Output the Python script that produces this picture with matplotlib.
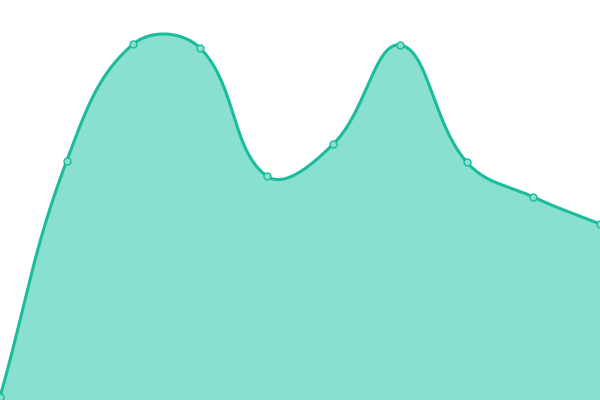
import numpy as np
import matplotlib
matplotlib.use("Agg")
import matplotlib.pyplot as plt

# values (y axis 0..400)
labels = ["A", "B", "C", "D", "E", "F", "G", "H", "I", "J"]
values = [3, 239, 356, 352, 224, 256, 355, 238, 203, 176]

line_color = "#1abc9c"
fill_color = "#89e0d0"

W, H = 600, 400
fig = plt.figure(figsize=(6, 4), dpi=100)
ax = fig.add_axes([0, 0, 1, 1])
n = len(values)
ax.set_xlim(0, n - 1)
ax.set_ylim(0, 400)
ax.axis("off")

# pixel-space points for tension spline
sx = W / (n - 1)
px = np.arange(n) * sx
py = np.array(values, dtype=float)
t = 0.4
cp_prev = []
cp_next = []
for i in range(n):
    p0 = np.array([px[max(i - 1, 0)], py[max(i - 1, 0)]])
    p1 = np.array([px[i], py[i]])
    p2 = np.array([px[min(i + 1, n - 1)], py[min(i + 1, n - 1)]])
    d01 = np.hypot(*(p1 - p0))
    d12 = np.hypot(*(p2 - p1))
    tot = d01 + d12 if d01 + d12 > 0 else 1
    fa = t * d01 / tot
    fb = t * d12 / tot
    cp_prev.append(p1 - fa * (p2 - p0))
    cp_next.append(p1 + fb * (p2 - p0))

xs, ys = [], []
u = np.linspace(0, 1, 60)
for i in range(n - 1):
    a = np.array([px[i], py[i]])
    b = cp_next[i]
    c = cp_prev[i + 1]
    d = np.array([px[i + 1], py[i + 1]])
    pts = ((1 - u) ** 3)[:, None] * a + (3 * (1 - u) ** 2 * u)[:, None] * b \
        + (3 * (1 - u) * u ** 2)[:, None] * c + (u ** 3)[:, None] * d
    xs.extend(pts[:, 0] / sx)
    ys.extend(pts[:, 1])

ax.fill_between(xs, ys, 0, color=fill_color, lw=0)
ax.plot(xs, ys, color=line_color, lw=2.2, solid_capstyle="round")
ax.plot(np.arange(n), values, "o", ms=5, mfc=fill_color, mec=line_color, mew=1, clip_on=False)

fig.savefig("out.png", dpi=100)
